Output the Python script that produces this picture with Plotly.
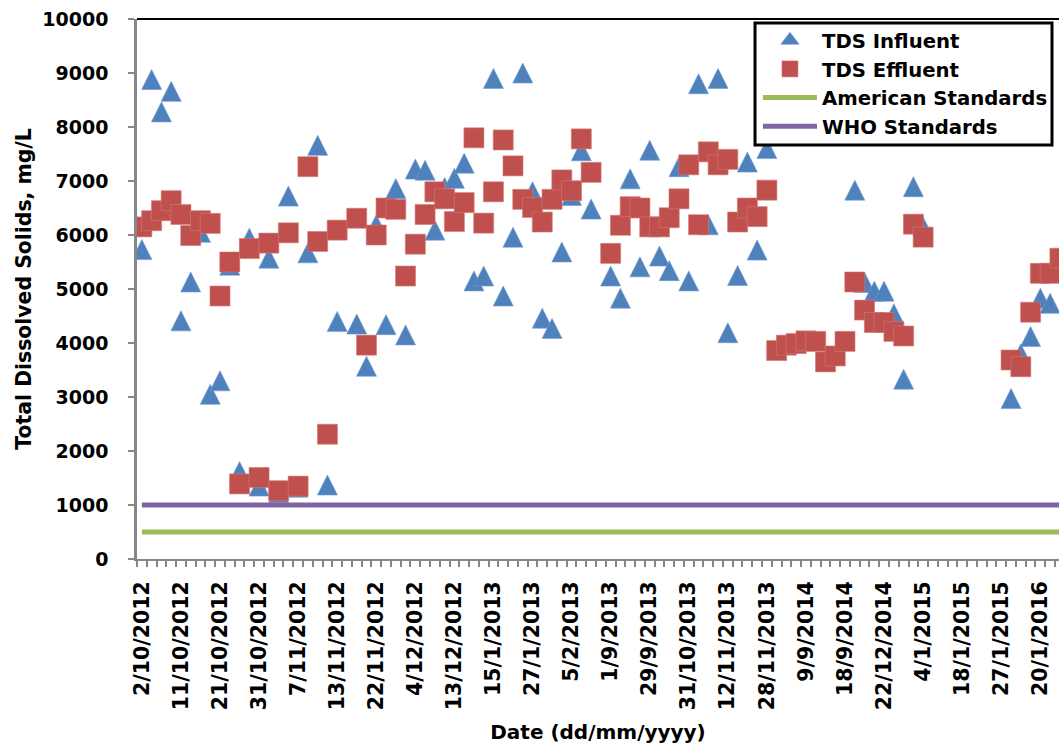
import plotly.graph_objects as go

# ---- data ----
# tick labels appear on every 4th category
tick_labels = ["2/10/2012", "11/10/2012", "21/10/2012", "31/10/2012", "7/11/2012",
               "13/11/2012", "22/11/2012", "4/12/2012", "13/12/2012", "15/1/2013",
               "27/1/2013", "5/2/2013", "1/9/2013", "29/9/2013", "31/10/2013",
               "12/11/2013", "28/11/2013", "9/9/2014", "18/9/2014", "22/12/2014",
               "4/1/2015", "18/1/2015", "27/1/2015", "20/1/2016"]
label_step = 4

tds_influent = [5730, 8880, 8280, 8660, 4410, 5130, 6050, 3050, 3300, 5440,
                1620, 5940, 1350, 5570, 1230, 6720, 1330, 5670, 7660, 1370,
                4400, None, 4350, 3570, 6190, 4340, 6860, 4150, 7220, 7200,
                6090, 6880, 7050, 7330, 5150, 5240, 8900, 4870, 5960, 9000,
                6800, 4460, 4270, 5685, 6730, 7560, 6480, None, 5240, 4830,
                7040, 5410, 7570, 5610, 5340, 7265, 5150, 8800, 6190, 8900,
                4190, 5250, 7350, 5720, 7600, None, None, None, None, None,
                None, None, None, 6830, 5120, 4960, 4960, 4540, 3330, 6895,
                6150, None, None, None, None, None, None, None, None, 2970,
                3800, 4120, 4830, 4735, None]

tds_effluent = [6150, 6265, 6450, 6635, 6380, 5990, 6265, 6215, 4870, 5500,
                1390, 5750, 1510, 5850, 1265, 6040, 1350, 7265, 5880, 2310,
                6090, None, 6310, 3960, 6000, 6500, 6475, 5240, 5830, 6380,
                6800, 6670, 6250, 6600, 7800, 6220, 6800, 7760, 7280, 6660,
                6510, 6240, 6660, 7020, 6820, 7780, 7160, None, 5660, 6180,
                6525, 6500, 6150, 6150, 6320, 6670, 7300, 6190, 7540, 7300,
                7400, 6240, 6500, 6340, 6830, 3860, 3960, 3990, 4040, 4030,
                3650, 3760, 4030, 5130, 4610, 4380, 4380, 4215, 4130, 6200,
                5960, None, None, None, None, None, None, None, None, 3685,
                3560, 4570, 5290, 5290, 5570]

american_standard = 500
who_standard = 1000

# ---- derived ----
n = len(tds_effluent)
categories = list(range(n))
american_line = [american_standard] * n
who_line = [who_standard] * n
label_pos = categories[::label_step][:len(tick_labels)]
boundaries = [c - 0.5 for c in categories] + [categories[-1] + 0.5]

BLUE = "#4F81BD"
RED = "#C0504D"
GREEN = "#9BBB59"
PURPLE = "#8064A2"
AXIS = "#868686"
FONT = "DejaVu Sans"

fig = go.Figure()
# legend entry for the influent series (plain triangle symbol)
fig.add_trace(go.Scatter(
    x=[None], y=[None], mode="markers", name="TDS Influent",
    marker=dict(symbol="triangle-up", size=20, color=BLUE,
                line=dict(width=0.6, color="#6f9bd1")),
))
# isoceles triangle (Excel style): arrow-down flipped, shifted so it is centred on the point
fig.add_trace(go.Scatter(
    x=categories, y=tds_influent, mode="markers", name="TDS Influent",
    showlegend=False,
    marker=dict(symbol="arrow-down", angle=180, size=20, standoff=10, color=BLUE,
                line=dict(width=0.6, color="#6f9bd1")),
))
fig.add_trace(go.Scatter(
    x=categories, y=tds_effluent, mode="markers", name="TDS Effluent",
    marker=dict(symbol="square", size=20, color=RED,
                line=dict(width=0.6, color="#d27a77")),
))
fig.add_trace(go.Scatter(
    x=categories, y=american_line, mode="lines", name="American Standards",
    line=dict(color=GREEN, width=5),
))
fig.add_trace(go.Scatter(
    x=categories, y=who_line, mode="lines", name="WHO Standards",
    line=dict(color=PURPLE, width=5),
))

fig.update_layout(
    width=1059, height=747,
    margin=dict(l=137, r=0, t=19, b=188),
    paper_bgcolor="white", plot_bgcolor="white",
    font=dict(family=FONT, color="black"),
    showlegend=True,
    legend=dict(
        x=0.6735, y=0.9963, xanchor="left", yanchor="top",
        bgcolor="rgba(0,0,0,0)", borderwidth=0,
        font=dict(family=FONT, size=19.7, color="black", weight="bold"),
        itemwidth=54, tracegroupgap=0,
    ),
    xaxis=dict(
        range=[-0.5, 93.91], showgrid=False, zeroline=False,
        showline=True, linecolor=AXIS, linewidth=2,
        tickmode="array", tickvals=label_pos, ticktext=tick_labels,
        ticks="", tickangle=-90, ticklabelstandoff=12,
        tickfont=dict(family=FONT, size=20.5, color="black", weight="bold"),
        minor=dict(tickmode="array", tickvals=boundaries, ticks="outside",
                   ticklen=6, tickwidth=1.5, tickcolor=AXIS, showgrid=False),
        title=dict(text="Date (dd/mm/yyyy)", standoff=16,
                   font=dict(family=FONT, size=20, color="black", weight="bold")),
    ),
    yaxis=dict(
        range=[0, 10000], tickmode="linear", tick0=0, dtick=1000, tickformat="d",
        showgrid=False, zeroline=False,
        showline=True, linecolor=AXIS, linewidth=2.5,
        ticks="outside", ticklen=6, tickwidth=1.5, tickcolor=AXIS,
        ticklabelstandoff=16,
        tickfont=dict(family=FONT, size=19, color="black", weight="bold"),
        title=dict(text="Total Dissolved Solids, mg/L", standoff=6,
                   font=dict(family=FONT, size=20.4, color="black", weight="bold")),
    ),
    shapes=[
        dict(type="line", xref="paper", yref="paper", x0=0, x1=1, y0=1, y1=1,
             layer="above", line=dict(color="black", width=2)),
        # legend frame
        dict(type="rect", xref="paper", yref="paper",
             x0=0.6703, x1=0.9924, y0=0.7667, y1=0.9926,
             layer="above", fillcolor="white", line=dict(color="black", width=3)),
    ],
)

fig.write_html("out.html")
